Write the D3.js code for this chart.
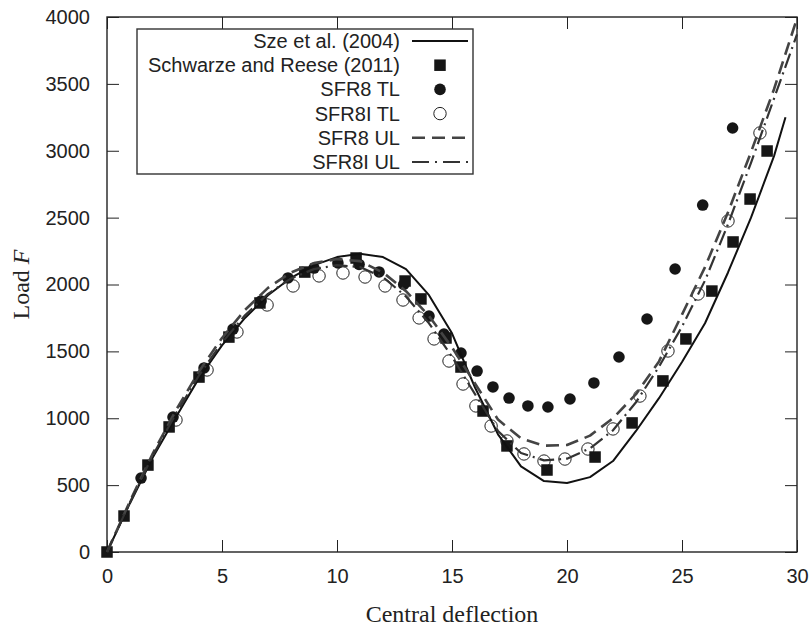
<!DOCTYPE html>
<html>
<head>
<meta charset="utf-8">
<script src="https://cdn.jsdelivr.net/npm/d3@7"></script>
<style>
  html, body { margin: 0; padding: 0; background: #fff; }
  svg { display: block; }
</style>
</head>
<body>
<div id="chart"></div>
<script>
// ---------- data ----------
const xTicks = [0, 5, 10, 15, 20, 25, 30];
const yTicks = [0, 500, 1000, 1500, 2000, 2500, 3000, 3500, 4000];

const legendLabels = ["Sze et al. (2004)", "Schwarze and Reese (2011)", "SFR8 TL", "SFR8I TL", "SFR8 UL", "SFR8I UL"];

// Sze et al. (2004) — solid line
const szeX = [0,1,2,3,4,5,6,7,8,9,10,11,12,13,14,15,16,17,18,19,20,21,22,23,24,25,26,27,28,29,29.5];
const szeF = [0,365,710,1010,1300,1545,1750,1920,2050,2145,2205,2230,2205,2115,1920,1635,1230,880,640,530,516,560,680,905,1150,1420,1710,2090,2500,2960,3250];

// Schwarze and Reese (2011) — squares
const srX = [0,0.74,1.78,2.7,4.0,5.3,6.65,8.6,10.83,12.96,13.65,14.74,15.39,16.35,17.39,19.13,21.22,22.83,24.17,25.17,26.3,27.22,27.96,28.7];
const srF = [0,269,650,935,1308,1607,1862,2093,2198,2026,1892,1600,1383,1054,793,613,710,965,1279,1593,1951,2318,2639,2998];

// SFR8 TL — filled circles
const tlX = [1.48,2.87,4.22,5.48,6.70,7.87,9.0,10.04,10.96,11.83,12.9,14.0,14.65,15.39,16.09,16.78,17.48,18.3,19.17,20.13,21.17,22.26,23.48,24.7,25.9,27.2];
const tlF = [553,1009,1376,1667,1877,2049,2123,2161,2150,2094,2000,1764,1630,1488,1353,1234,1151,1092,1084,1144,1264,1458,1742,2116,2594,3170];

// SFR8I TL — open circles
const tliX = [3.0,4.35,5.65,6.96,8.09,9.22,10.26,11.22,12.09,12.87,13.57,14.22,14.87,15.48,16.04,16.7,17.39,18.13,19.0,19.91,20.91,22.0,23.17,24.39,25.7,27.0,28.39];
const tliF = [987,1361,1645,1847,1989,2064,2086,2056,1989,1884,1750,1593,1428,1256,1092,942,830,733,680,695,770,920,1166,1503,1929,2475,3133];

// SFR8 UL — dashed line
const ulX = [0,1,2,3,4,5,6,7,8,9,10,11,12,13,14,15,16,17,18,19,20,21,22,23,24,25,26,27,28,29,30];
const ulF = [0,380,740,1060,1350,1600,1810,1975,2090,2160,2190,2175,2090,1950,1765,1530,1260,990,850,795,800,870,1000,1180,1425,1775,2130,2540,2990,3460,3990];

// SFR8I UL — dash-dot line
const uliX = [0,1,2,3,4,5,6,7,8,9,10,11,12,13,14,15,16,17,18,19,20,21,22,23,24,25,26,27,28,29,30];
const uliF = [0,372,725,1035,1320,1565,1770,1930,2045,2115,2145,2130,2055,1910,1710,1460,1180,905,740,685,698,775,910,1120,1385,1685,2030,2450,2910,3390,3870];

// ---------- layout ----------
const W = 812, H = 629;
const plot = { left: 107, right: 797, top: 17, bottom: 552 };

const svg = d3.select("#chart").append("svg").attr("width", W).attr("height", H);

const x = d3.scaleLinear().domain([0, 30]).range([plot.left, plot.right]);
const y = d3.scaleLinear().domain([0, 4000]).range([plot.bottom, plot.top]);

const zip = (xs, ys) => xs.map((v, i) => [v, ys[i]]);

const axisColor = "#222";
const tickLen = 12;

// axes with inward ticks
const gB = svg.append("g").attr("transform", `translate(0,${plot.bottom})`)
  .call(d3.axisBottom(x).tickValues(xTicks).tickSize(-tickLen).tickPadding(17).tickFormat(d3.format("d")));
const gT = svg.append("g").attr("transform", `translate(0,${plot.top})`)
  .call(d3.axisTop(x).tickValues(xTicks).tickSize(-tickLen).tickFormat(""));
const gL = svg.append("g").attr("transform", `translate(${plot.left},0)`)
  .call(d3.axisLeft(y).tickValues(yTicks).tickSize(-tickLen).tickPadding(17).tickFormat(d3.format("d")));
const gR = svg.append("g").attr("transform", `translate(${plot.right},0)`)
  .call(d3.axisRight(y).tickValues(yTicks).tickSize(-tickLen).tickFormat(""));

[gB, gT, gL, gR].forEach(g => {
  g.select(".domain").remove();
  g.selectAll(".tick line").attr("stroke", axisColor).attr("stroke-width", 1);
  g.selectAll(".tick text").attr("fill", "#222")
    .style("font-family", "'Liberation Sans', Arial, sans-serif").style("font-size", "20px");
});

// frame
svg.append("rect")
  .attr("x", plot.left).attr("y", plot.top)
  .attr("width", plot.right - plot.left).attr("height", plot.bottom - plot.top)
  .attr("fill", "none").attr("stroke", axisColor).attr("stroke-width", 1.4);

// axis titles
svg.append("text")
  .attr("x", (plot.left + plot.right) / 2).attr("y", 622)
  .attr("text-anchor", "middle")
  .style("font-family", "'Liberation Serif', 'Times New Roman', serif").style("font-size", "24px").attr("fill", "#222")
  .text("Central deflection");

const yt = svg.append("text")
  .attr("transform", `translate(29,${(plot.top + plot.bottom) / 2}) rotate(-90)`)
  .attr("text-anchor", "middle")
  .style("font-family", "'Liberation Serif', 'Times New Roman', serif").style("font-size", "24px").attr("fill", "#222");
yt.append("tspan").text("Load ");
yt.append("tspan").style("font-style", "italic").text("F");

// ---------- marks ----------
const line = d3.line().x(d => x(d[0])).y(d => y(d[1])).curve(d3.curveLinear);

const styles = {
  sze:  { stroke: "#111", width: 2.0, dash: null },
  ul:   { stroke: "#444", width: 2.6, dash: "13,7" },
  uli:  { stroke: "#333", width: 2.2, dash: "15,5,2,5" }
};

const sq = 11.5, rFill = 5.8, rOpen = 6.2;

const marks = svg.append("g");

// open circles
marks.selectAll("circle.tli").data(zip(tliX, tliF)).join("circle")
  .attr("class", "tli")
  .attr("cx", d => x(d[0])).attr("cy", d => y(d[1])).attr("r", rOpen)
  .attr("fill", "#fff").attr("stroke", "#222").attr("stroke-width", 1);

// filled circles
marks.selectAll("circle.tl").data(zip(tlX, tlF)).join("circle")
  .attr("class", "tl")
  .attr("cx", d => x(d[0])).attr("cy", d => y(d[1])).attr("r", rFill).attr("fill", "#161616");

// squares
marks.selectAll("rect.sr").data(zip(srX, srF)).join("rect")
  .attr("class", "sr")
  .attr("x", d => x(d[0]) - sq / 2).attr("y", d => y(d[1]) - sq / 2)
  .attr("width", sq).attr("height", sq).attr("fill", "#161616");

// lines
const addLine = (data, st) => {
  const p = svg.append("path").datum(data).attr("d", line)
    .attr("fill", "none").attr("stroke", st.stroke).attr("stroke-width", st.width)
    .attr("stroke-linejoin", "round");
  if (st.dash) p.attr("stroke-dasharray", st.dash);
};
addLine(zip(szeX, szeF), styles.sze);
addLine(zip(ulX, ulF), styles.ul);
addLine(zip(uliX, uliF), styles.uli);

// ---------- legend ----------
const lg = svg.append("g");
lg.append("rect").attr("x", 137).attr("y", 29).attr("width", 336).attr("height", 145)
  .attr("fill", "#fff").attr("stroke", "#333").attr("stroke-width", 1.4);

const rowY = i => 41 + i * 24.2;
legendLabels.forEach((t, i) => {
  lg.append("text").attr("x", 400).attr("y", rowY(i) + 7).attr("text-anchor", "end")
    .style("font-family", "'Liberation Sans', Arial, sans-serif").style("font-size", "20px").attr("fill", "#222")
    .text(t);
});
const sx0 = 412, sx1 = 468, mx = 440;
const seg = (i, st) => {
  const l = lg.append("line").attr("x1", sx0).attr("x2", sx1).attr("y1", rowY(i)).attr("y2", rowY(i))
    .attr("stroke", st.stroke).attr("stroke-width", st.width);
  if (st.dash) l.attr("stroke-dasharray", st.dash);
};
seg(0, styles.sze);
lg.append("rect").attr("x", mx - sq / 2).attr("y", rowY(1) - sq / 2).attr("width", sq).attr("height", sq).attr("fill", "#161616");
lg.append("circle").attr("cx", mx).attr("cy", rowY(2)).attr("r", rFill).attr("fill", "#161616");
lg.append("circle").attr("cx", mx).attr("cy", rowY(3)).attr("r", rOpen).attr("fill", "#fff").attr("stroke", "#222").attr("stroke-width", 1);
seg(4, styles.ul);
seg(5, { stroke: styles.uli.stroke, width: styles.uli.width, dash: "17,6,2,6" });
</script>
</body>
</html>
